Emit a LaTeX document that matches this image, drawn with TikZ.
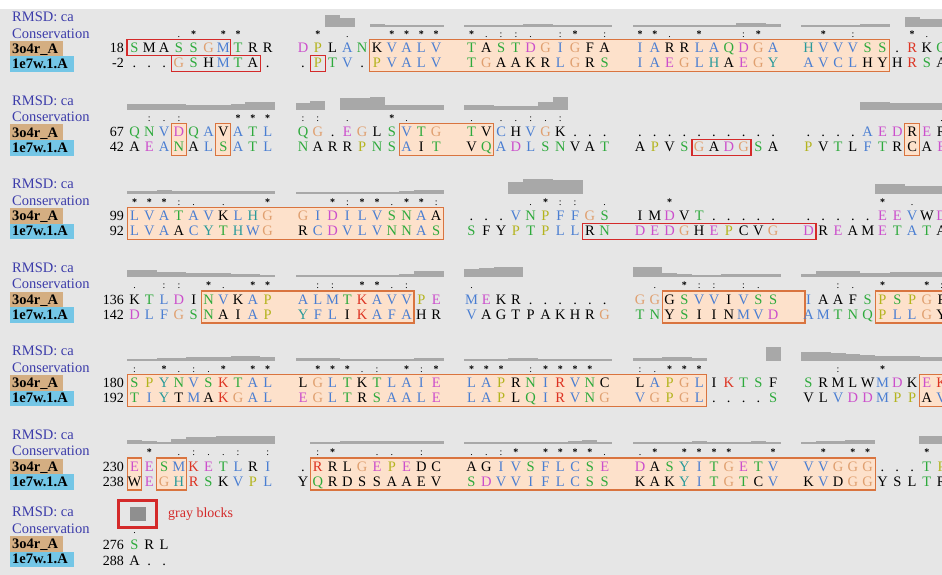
\documentclass[tikz,border=0pt]{standalone}
\usepackage{fontspec}
\setmainfont{Liberation Serif}
\newfontfamily\myserif{Liberation Serif}
\definecolor{bgc}{HTML}{E6E6E6}
\definecolor{barc}{HTML}{A8A8A8}
\definecolor{lblc}{HTML}{3C3CAA}
\definecolor{tanc}{HTML}{D4AE82}
\definecolor{bluec}{HTML}{74C6E6}
\definecolor{oline}{HTML}{D9743F}
\definecolor{ofill}{HTML}{FDE1CB}
\definecolor{rline}{HTML}{D42A2A}
\definecolor{cgreen}{HTML}{2EAA3C}
\definecolor{ctan}{HTML}{E0A070}
\definecolor{colive}{HTML}{B4B41E}
\definecolor{cblue}{HTML}{4A7ED2}
\definecolor{cmag}{HTML}{CC4FCC}
\definecolor{cred}{HTML}{DD3322}
\definecolor{cteal}{HTML}{2A9A9A}
\newcount\myCnt
\newcount\myNode
\newcommand\myDefRes[2]{\expandafter\def\csname rc-#1\endcsname{#2}\expandafter\def\csname rt-#1\endcsname{#1}}
\newcommand\myDefBlk[2]{\expandafter\def\csname rc-#1\endcsname{black}\expandafter\def\csname rt-#1\endcsname{#2}}
\myDefRes{S}{cgreen}\myDefRes{T}{cgreen}\myDefRes{N}{cgreen}\myDefRes{Q}{cgreen}
\myDefRes{G}{ctan}\myDefRes{P}{colive}
\myDefRes{A}{cblue}\myDefRes{V}{cblue}\myDefRes{L}{cblue}\myDefRes{I}{cblue}
\myDefRes{M}{cblue}\myDefRes{F}{cblue}\myDefRes{W}{cblue}\myDefRes{C}{cblue}
\myDefRes{D}{cmag}\myDefRes{E}{cmag}\myDefRes{K}{cred}\myDefRes{R}{cred}
\myDefRes{H}{cteal}\myDefRes{Y}{cteal}\myDefRes{.}{black}
\myDefBlk{a}{A}\myDefBlk{c}{C}\myDefBlk{d}{D}\myDefBlk{e}{E}\myDefBlk{f}{F}
\myDefBlk{g}{G}\myDefBlk{h}{H}\myDefBlk{i}{I}\myDefBlk{k}{K}\myDefBlk{l}{L}
\myDefBlk{m}{M}\myDefBlk{n}{N}\myDefBlk{p}{P}\myDefBlk{q}{Q}\myDefBlk{r}{R}
\myDefBlk{s}{S}\myDefBlk{t}{T}\myDefBlk{v}{V}\myDefBlk{w}{W}\myDefBlk{y}{Y}
\expandafter\def\csname cm-s\endcsname{\bfseries *}
\expandafter\def\csname cm-c\endcsname{:}
\expandafter\def\csname cm-d\endcsname{.}
\newcommand\myRes[1]{%
  \pgfmathsetmacro\myX{xres(\the\myCnt)}%
  \edef\myC{\csname rc-#1\endcsname}%
  \edef\myT{\csname rt-#1\endcsname}%
  \global\advance\myNode by 1
  \node[restxt,text=\myC] (r\the\myNode) at (\myX,\myRowY+4.9) {\myT};}
\def\mySeqLoop#1{\ifx#1\relax\else\myRes{#1}\advance\myCnt by 1 \expandafter\mySeqLoop\fi}
\newcommand\mySeq[3]{%
  \def\myRowY{#1}%
  \global\advance\myNode by 1
  \node[numtxt] (q\the\myNode) at (124,#1+4.9) {#2};%
  \myCnt=0 \mySeqLoop#3\relax}
\newcommand\myBars[3]{\foreach \h [count=\j from 0] in {#3} {\ifdim\h pt>0pt
  \fill[barc] ({xres(10*#2+\j)-7.5},{#1}) rectangle ({xres(10*#2+\j)+7.5},{#1-\h});\fi}}
\newcommand\myCons[3]{\foreach \i/\c in {#3} {\global\advance\myNode by 1
  \node[cmtxt] (c\the\myNode) at ({xres(10*#2+\i)},{#1}) {\csname cm-\c\endcsname};}}
\newcommand\myOB[3]{\path[obox] ({xres(#2)-7.4},{#1+23.5}) rectangle ({xres(#3)+7.4},{#1+55.5});}
\newcommand\myOBx[3]{\path[obox] ({xres(#2)-7.4},{#1+23.5}) rectangle ({#3},{#1+55.5});}
\newcommand\myRA[3]{\path[rbox] ({xres(#2)-7.4},{#1+23.5}) rectangle ({xres(#3)+7.4},{#1+39.5});}
\newcommand\myRB[3]{\path[rbox] ({xres(#2)-7.4},{#1+39.5}) rectangle ({xres(#3)+7.4},{#1+55.5});}
\newcommand\myLabels[1]{%
  \global\advance\myNode by 1
  \node[lbl] (a\the\myNode) at (12,#1+4.9) {RMSD: ca};
  \node[lbl] (b\the\myNode) at (12,#1+21.4) {Conservation};
  \fill[tanc] (10,#1+24) rectangle (62.5,#1+39.5);
  \fill[bluec] (10,#1+39.5) rectangle (73.5,#1+55);
  \node[idtxt] (d\the\myNode) at (12,#1+36.9) {3o4r\_A};
  \node[idtxt] (e\the\myNode) at (12,#1+51.9) {1e7w.1.A};}
\begin{document}
\begin{tikzpicture}[x=1pt,y=-1pt,
  declare function={xres(\i)=134.5+168.5*floor(\i/10)+14.8*mod(\i,10);},
  restxt/.style={inner sep=0pt,anchor=base,font=\myserif\fontsize{14.5}{16}\selectfont},
  numtxt/.style={inner sep=0pt,anchor=base east,font=\myserif\fontsize{14}{16}\selectfont},
  cmtxt/.style={inner sep=0pt,anchor=base,font=\myserif\fontsize{10}{12}\selectfont},
  lbl/.style={inner sep=0pt,anchor=base west,text=lblc,font=\myserif\fontsize{14.5}{16}\selectfont},
  idtxt/.style={inner sep=0pt,anchor=base west,font=\myserif\fontsize{14.5}{16}\selectfont\bfseries},
  obox/.style={draw=oline,fill=ofill,line width=1.1pt},
  rbox/.style={draw=rline,line width=1.4pt}]
\path[use as bounding box] (0,0) rectangle (942,575);
\begin{scope}
\clip (0,0) rectangle (942,575);
\fill[white] (0,0) rectangle (942,575);
\fill[bgc] (0,9) rectangle (942,575);
% ---------- section 1
\myLabels{17}
\myBars{27}{1}{0,0,12,9,0,3,2,2,2,2}
\myBars{27}{2}{2,2,2,2,3,3,2,2,2,2}
\myBars{27}{3}{2,2,2,2,2,2,2,4,4,3}
\myBars{27}{4}{2,2,2,2,3,3,0,10,8,8}
\myCons{38}{0}{3/d,4/s,6/s,7/s}
\myCons{38}{1}{1/s,3/d,6/s,7/s,8/s,9/s}
\myCons{38}{2}{0/s,1/d,2/c,3/c,4/d,6/c,7/s,9/c}
\myCons{38}{3}{0/s,1/s,2/d,4/s,7/c,8/s}
\myCons{38}{4}{1/s,3/c,7/s,8/d}
\myOB{16}{15}{45}
\myRA{16}{0}{6}
\myRB{16}{3}{8}
\myRB{16}{11}{11}
\mySeq{48}{18}{SmaSSGMTrr DPlANkVALV TaSTDGIGfa IArrLAQDGA HVVVSS.RkQ}
\mySeq{63}{-2}{...GShMTa. .PTV.PVALV TGaakrLGrS IAEGLHaEGY AVCLhyhRSa}
% ---------- section 2
\myLabels{100.5}
\myBars{110}{0}{6,6,6,6,5,5,5,6,8,8}
\myBars{110}{1}{7,9,0,12,12,13,5,5,5,5}
\myBars{110}{2}{5,5,4,4,4,8,13,0,0,0}
\myBars{110}{4}{0,0,0,0,8,8,7,7,7,7}
\myCons{121.5}{0}{1/c,2/d,3/c,7/s,8/s,9/s}
\myCons{121.5}{1}{0/c,1/c,3/d,6/s,7/d}
\myCons{121.5}{2}{0/d,2/d,3/d,4/c,5/d,6/c}
\myCons{121.5}{4}{9/d}
\myOB{100}{3}{3}
\myOB{100}{6}{6}
\myOB{100}{17}{21}
\myRB{100}{34}{37}
\myOB{100}{47}{47}
\mySeq{132}{67}{QNVDQAvATL QG.EGlSVTG TvChVGk... .......... ....AEDrEr}
\mySeq{147}{42}{aEANaLSATL NarrPNSAiT vQADLSNvaT aPvSGaDGSa PvTlFTrcaE}
% ---------- section 3
\myLabels{184}
\myBars{193.5}{0}{3,3,4,3,3,3,3,3,3,3}
\myBars{193.5}{1}{2,2,2,2,2,2,2,3,4,4}
\myBars{193.5}{2}{0,0,0,12,15,15,14,14,0,0}
\myBars{193.5}{4}{0,0,0,0,0,10,10,8,8,8}
\myCons{205}{0}{0/s,1/s,2/s,3/c,4/d,6/d,9/s}
\myCons{205}{1}{2/s,3/c,4/s,5/s,6/d,7/s,8/s,9/c}
\myCons{205}{2}{4/d,5/s,6/c,7/c,9/d}
\myCons{205}{3}{2/s}
\myCons{205}{4}{5/s,7/d}
\myOB{184}{0}{19}
\myRB{184}{28}{40}
\mySeq{216}{99}{LVATAVkLHG GIDILVSNAa ...VNPFFGS imDvT..... .....EEVwD}
\mySeq{231}{92}{LVAaCYTHWG rCDVLVNNAS SfyPTPLLrN DEDGhEPcvG DrEamETATa}
% ---------- section 4
\myLabels{267.5}
\myBars{277}{0}{7,7,5,5,4,4,4,3,3,2}
\myBars{277}{1}{2,2,2,2,2,2,2,3,6,6}
\myBars{277}{2}{8,9,10,10,0,0,0,0,0,0}
\myBars{277}{3}{10,10,4,3,2,2,3,3,3,3}
\myBars{277}{4}{3,6,6,6,4,4,5,5,5,5}
\myCons{288.5}{0}{0/d,2/c,3/c,5/s,6/d,8/s,9/s}
\myCons{288.5}{1}{1/c,2/c,4/s,5/s,6/d,7/c}
\myCons{288.5}{2}{0/d}
\myCons{288.5}{3}{1/d,3/s,4/c,5/c,7/c,8/d}
\myCons{288.5}{4}{2/c,3/d,5/s,8/s,9/c}
\myOB{267.5}{5}{17}
\myOBx{267.5}{32}{805}
\myOBx{267.5}{45}{960}
\mySeq{299.5}{136}{kTLDiNVkAP ALMTKAVVPE MEkr...... GGgSVViVSS IaafSPSPGf}
\mySeq{314.5}{142}{DLFGSNaiAP YFLiKAFAhr VagtpakhrG TNySiinMVD AMTNQPLLGy}
% ---------- section 5
\myLabels{351}
\myBars{360.5}{0}{2,2,3,3,4,4,4,5,5,4}
\myBars{360.5}{1}{3,3,3,2,2,2,2,2,3,3}
\myBars{360.5}{2}{2,2,2,3,3,2,2,2,2,2}
\myBars{360.5}{3}{3,3,4,4,3,0,0,0,0,14}
\myBars{360.5}{4}{9,9,8,7,6,5,5,5,4,4}
\myCons{372}{0}{0/c,2/s,3/d,4/c,5/d,6/s,8/s,9/s}
\myCons{372}{1}{1/s,2/s,3/s,4/d,5/c,7/s,8/c,9/s}
\myCons{372}{2}{0/s,1/s,2/s,4/c,5/s,6/s,7/s,8/s}
\myCons{372}{3}{0/c,1/d,2/s,3/s,4/s}
\myCons{372}{4}{2/c,5/s}
\myOB{351}{0}{34}
\myOBx{351}{48}{960}
\mySeq{383}{180}{SPYNVSKTAL lGLTkTLAIE LAPrNIRVNc lAPGLiKTSf SrmlwMDkEK}
\mySeq{398}{192}{TIYtMaKGAL EGLTrSAALE LAPlQIRVNG VGPGL....S vlVDDMPPaV}
% ---------- section 6
\myLabels{434.5}
\myBars{444}{0}{4,3,2,5,7,7,8,8,8,8}
\myBars{444}{1}{0,2,2,3,3,3,3,3,3,3}
\myBars{444}{2}{2,2,2,2,2,2,2,3,4,2}
\myBars{444}{3}{2,2,2,2,3,2,2,2,3,2}
\myBars{444}{4}{2,3,3,4,4,0,0,0,8,8}
\myCons{455.5}{0}{1/s,3/d,4/c,5/d,6/d,7/c,9/c}
\myCons{455.5}{1}{1/c,2/s,5/d,6/d,8/c}
\myCons{455.5}{2}{0/d,1/d,2/c,3/s,5/s,6/s,7/s,8/s,9/d}
\myCons{455.5}{3}{0/d,1/s,3/s,4/s,5/s,6/s,9/s}
\myCons{455.5}{4}{1/s,3/s,4/s,8/s}
\myOB{434.5}{0}{0}
\myOB{434.5}{2}{3}
\myOB{434.5}{11}{44}
\mySeq{466.5}{230}{EESMKETLrI .RrlGEPEdc agIVSFLCSE DaSYITGETV VVGGG...TP}
\mySeq{481.5}{238}{wEGHRSkVPL yQrdssaaev SDVVIFLCSS kakYITGTcV kVdGGyslTr}
% ---------- section 7
\myLabels{512}
\myCons{533}{0}{0/d}
\mySeq{545}{276}{Srl}
\mySeq{560.5}{288}{a..}
\draw[rline,line width=2.5pt] (118.5,500.5) rectangle (156.5,527.5);
\fill[barc!85!black] (130,507) rectangle (146,521);
\node[inner sep=0pt,anchor=base west,text=rline,font=\myserif\fontsize{14}{16}\selectfont] (legend) at (168,517.5) {gray blocks};
\end{scope}
\end{tikzpicture}
\end{document}
